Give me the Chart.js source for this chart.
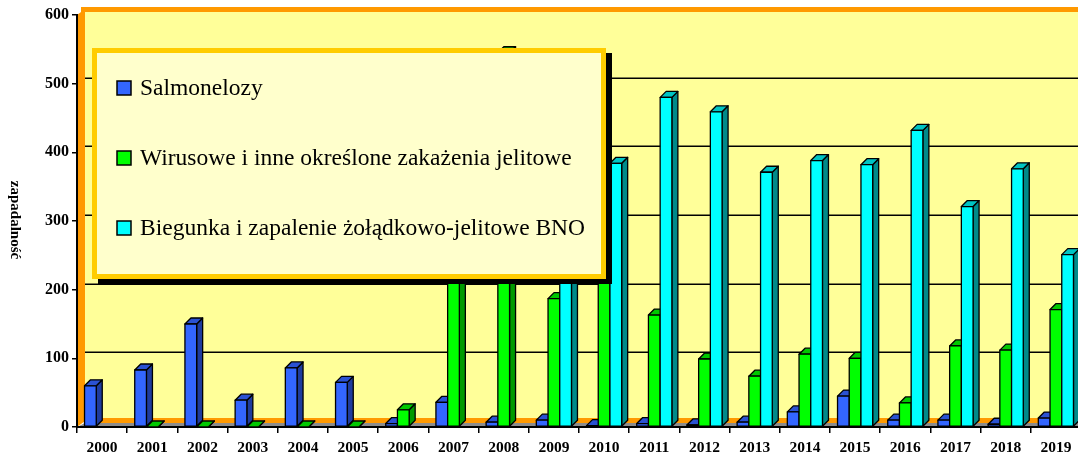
<!DOCTYPE html>
<html>
<head>
<meta charset="utf-8">
<script src="https://cdn.jsdelivr.net/npm/chart.js@4.4.1/dist/chart.umd.min.js"></script>
<style>
  html, body { margin: 0; padding: 0; background: #fff; overflow: hidden; }
  canvas { display: block; }
</style>
</head>
<body>
<canvas id="chart" width="1081" height="461"></canvas>
<script>
// DATA
const years = ['2000', '2001', '2002', '2003', '2004', '2005', '2006', '2007', '2008', '2009',
  '2010', '2011', '2012', '2013', '2014', '2015', '2016', '2017', '2018', '2019'];
const seriesNames = [
  'Salmonelozy',
  'Wirusowe i inne określone zakażenia jelitowe',
  'Biegunka i zapalenie żołądkowo-jelitowe BNO'
];
const salmonelozy = [60, 83, 150, 39, 86, 65, 5, 36, 7, 10, 2, 5, 3, 7, 22, 45, 10, 10, 4, 13];
const wirusowe = [null, 0, 0, 0, 0, 0, 25, 300, 545, 187, 230, 163, 99, 74, 106, 100, 35, 118, 112, 171];
const biegunka = [null, null, null, null, null, null, null, null, null, 260,
  384, 480, 459, 371, 388, 382, 432, 321, 376, 251];
const yTicks = [0, 100, 200, 300, 400, 500, 600];
const yTitle = 'zapadalność';

// STYLE
const frontColors = ['#3366FF', '#00FF00', '#00FFFF'];
const sideColors = ['#1F3C9E', '#009A00', '#008A8A'];
const topColors = ['#2B52D2', '#00C800', '#00C4C4'];
const depth = 6;
const wallDX = 8, wallDY = 6;
const serif = "'Liberation Serif', 'Times New Roman', serif";

function poly(ctx, pts, fill) {
  ctx.beginPath();
  ctx.moveTo(pts[0][0], pts[0][1]);
  for (let i = 1; i < pts.length; i++) ctx.lineTo(pts[i][0], pts[i][1]);
  ctx.closePath();
  ctx.fillStyle = fill;
  ctx.fill();
  ctx.stroke();
}

// walls, floor, back gridlines, 3d bars, legend
const wallsPlugin = {
  id: 'walls',
  beforeDraw(chart) {
    const ctx = chart.ctx;
    const a = chart.chartArea;
    const y = chart.scales.y;
    const top = y.getPixelForValue(600), bot = y.getPixelForValue(0);
    ctx.save();
    // back wall
    ctx.fillStyle = '#FFFF99';
    ctx.fillRect(a.left + wallDX, top - wallDY, chart.width, bot - top);
    // left wall
    ctx.fillStyle = '#FF9900';
    ctx.beginPath();
    ctx.moveTo(a.left, top); ctx.lineTo(a.left + wallDX, top - wallDY);
    ctx.lineTo(a.left + wallDX, bot - wallDY); ctx.lineTo(a.left, bot);
    ctx.closePath(); ctx.fill();
    // orange frame lines on back wall
    ctx.strokeStyle = '#FF9900';
    ctx.lineWidth = 5;
    ctx.beginPath();
    ctx.moveTo(a.left + wallDX - 4, top - wallDY + 0.5); ctx.lineTo(chart.width, top - wallDY + 0.5);
    ctx.moveTo(a.left + wallDX, bot - wallDY - 0.5); ctx.lineTo(chart.width, bot - wallDY - 0.5);
    ctx.stroke();
    // floor
    ctx.fillStyle = '#8C8C8C';
    ctx.beginPath();
    ctx.moveTo(a.left, bot); ctx.lineTo(a.left + wallDX, bot - wallDY + 2);
    ctx.lineTo(chart.width, bot - wallDY + 2); ctx.lineTo(chart.width, bot);
    ctx.closePath(); ctx.fill();
    // gridlines
    ctx.strokeStyle = '#000';
    ctx.lineWidth = 1.5;
    ctx.beginPath();
    yTicks.forEach(v => {
      if (v === 0 || v === 600) return;
      const py = Math.round(y.getPixelForValue(v) - wallDY) + 0.25;
      ctx.moveTo(a.left + wallDX, py);
      ctx.lineTo(chart.width, py);
    });
    ctx.stroke();
    ctx.restore();
  },
  beforeDatasetDraw() {
    return false;
  },
  afterDatasetsDraw(chart) {
    const ctx = chart.ctx;
    ctx.save();
    ctx.strokeStyle = '#000';
    ctx.lineWidth = 1.3;
    ctx.lineJoin = 'round';
    chart.data.datasets.forEach((ds, di) => {
      const meta = chart.getDatasetMeta(di);
      meta.data.forEach((el, i) => {
        if (ds.data[i] == null) return;
        const p = el.getProps(['x', 'y', 'base', 'width'], true);
        const l = p.x - p.width / 2, r = p.x + p.width / 2;
        const t = p.y, b = p.base;
        poly(ctx, [[r, b], [r + depth, b - depth], [r + depth, t - depth], [r, t]], sideColors[di]);
        poly(ctx, [[l, t], [r, t], [r + depth, t - depth], [l + depth, t - depth]], topColors[di]);
        if (b - t > 0.5) poly(ctx, [[l, t], [r, t], [r, b], [l, b]], frontColors[di]);
      });
    });
    ctx.restore();
  },
  afterDraw(chart) {
    const ctx = chart.ctx;
    ctx.save();
    // legend box
    const lx = 92, ly = 48, lw = 514, lh = 231;
    ctx.fillStyle = '#000';
    ctx.fillRect(lx + 6, ly + 5, lw, lh);
    ctx.fillStyle = '#FFCC00';
    ctx.fillRect(lx, ly, lw, lh);
    ctx.fillStyle = '#FFFFCC';
    ctx.fillRect(lx + 5, ly + 5, lw - 10, lh - 10);
    ctx.font = '23.5px ' + serif;
    ctx.textBaseline = 'middle';
    ctx.lineWidth = 1.5;
    ctx.strokeStyle = '#000';
    seriesNames.forEach((name, i) => {
      const cy = 88 + i * 70;
      ctx.fillStyle = frontColors[i];
      ctx.fillRect(117, cy - 7, 14, 14);
      ctx.strokeRect(117, cy - 7, 14, 14);
      ctx.fillStyle = '#000';
      ctx.fillText(name, 140, cy + 1);
    });
    // y axis title
    ctx.translate(15, 220);
    ctx.rotate(Math.PI / 2);
    ctx.font = 'bold 15px ' + serif;
    ctx.textAlign = 'center';
    ctx.fillStyle = '#000';
    ctx.fillText(yTitle, 0, 0);
    ctx.restore();
  }
};

const ctx = document.getElementById('chart').getContext('2d');
new Chart(ctx, {
  type: 'bar',
  data: {
    labels: years,
    datasets: [
      { label: seriesNames[0], data: salmonelozy, backgroundColor: frontColors[0] },
      { label: seriesNames[1], data: wirusowe, backgroundColor: frontColors[1] },
      { label: seriesNames[2], data: biegunka, backgroundColor: frontColors[2] }
    ]
  },
  options: {
    responsive: false,
    devicePixelRatio: 1,
    animation: false,
    layout: { padding: { top: 15, left: 0, right: 0, bottom: 0 } },
    datasets: { bar: { categoryPercentage: 0.7, barPercentage: 1.0 } },
    plugins: { legend: { display: false }, tooltip: { enabled: false } },
    scales: {
      x: {
        afterFit: s => { s.height = 34; },
        grid: { drawOnChartArea: false, offset: true, tickLength: 6, color: '#000', lineWidth: 1.5 },
        border: { color: '#000', width: 2 },
        ticks: { color: '#000', font: { family: serif, size: 15.5, weight: 'bold' }, padding: 6, maxRotation: 0 }
      },
      y: {
        min: 0,
        max: 600,
        afterFit: s => { s.width = 77; },
        afterBuildTicks: s => { s.ticks = yTicks.map(v => ({ value: v })); },
        grid: { drawOnChartArea: false, tickLength: 5, color: '#000', lineWidth: 1.5 },
        border: { color: '#000', width: 2 },
        ticks: { color: '#000', font: { family: serif, size: 16, weight: 'bold' }, padding: 3 }
      }
    }
  },
  plugins: [wallsPlugin]
});
</script>
</body>
</html>
